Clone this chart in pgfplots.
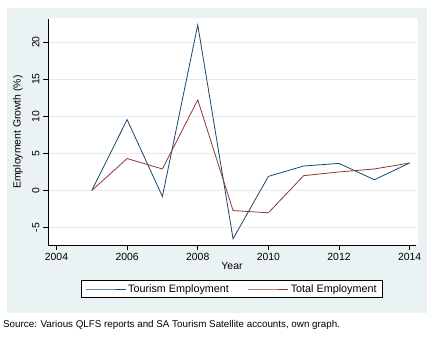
\documentclass[border=0pt]{standalone}
\usepackage{pgfplots}
\pgfplotsset{compat=1.18}
\usepackage{fontspec}
\setmainfont{Liberation Sans}
\definecolor{navyc}{HTML}{1A476F}
\definecolor{maroonc}{HTML}{90353B}
\definecolor{bgc}{HTML}{EAF2F3}
\definecolor{gridc}{HTML}{E4ECEE}
\begin{document}
\begin{tikzpicture}
\useasboundingbox (-48bp,-93bp) rectangle (388bp,245bp);
\fill[bgc] (-41bp,-68bp) rectangle (379bp,237bp);
\fill[white, rounded corners=2bp] (0bp,0bp) rectangle (370bp,227bp);
\begin{axis}[
  at={(0bp,0bp)}, anchor=south west,
  scale only axis, width=368bp, height=226bp,
  xmin=2003.76, xmax=2014.18, ymin=-7.34, ymax=23.1,
  axis x line*=bottom, axis y line*=left,
  axis line style={-, black, line width=0.6bp},
  xtick={2004,2006,...,2014}, ytick={-5,0,5,10,15,20},
  x tick label style={/pgf/number format/1000 sep={}},
  /pgf/number format/assume math mode=true,
  tick align=outside, major tick length=5bp,
  tick style={black, line width=0.6bp},
  ticklabel style={font=\fontsize{10.4bp}{12bp}\selectfont},
  yticklabel style={rotate=90, anchor=south},
  ymajorgrids, major grid style={color=gridc, line width=0.8bp},
  xlabel={Year}, ylabel={Employment Growth (\%)},
  label style={font=\fontsize{10.4bp}{12bp}\selectfont},
  xlabel style={at={(rel axis cs:0.5,0)}, anchor=center, yshift=-21bp},
  ylabel style={at={(axis description cs:-0.0815,0.5)}, anchor=center},
  legend columns=2,
  legend style={at={(0.5,-0.1947)}, anchor=center, draw=black, fill=white,
    font=\fontsize{10.8bp}{12bp}\selectfont, inner xsep=4bp, inner ysep=2bp,
    /tikz/every even column/.append style={column sep=17bp}},
  legend image code/.code={\draw[mark repeat=2,mark phase=2,#1] plot coordinates {(0bp,0bp) (20bp,0bp) (40bp,0bp)};},
]
\addplot[color=navyc, line width=0.8bp] coordinates {
(2005,0) (2006,9.55) (2007,-0.8) (2008,22.3) (2009,-6.5) (2010,1.9) (2011,3.3) (2012,3.65) (2013,1.45) (2014,3.7)};
\addlegendentry{Tourism Employment}
\addplot[color=maroonc, line width=0.8bp] coordinates {
(2005,0) (2006,4.3) (2007,2.9) (2008,12.2) (2009,-2.7) (2010,-3.0) (2011,2.0) (2012,2.5) (2013,2.9) (2014,3.7)};
\addlegendentry{Total Employment}
\end{axis}
\node[anchor=west, font=\fontsize{9.8bp}{12bp}\selectfont, inner sep=0pt] at (-45bp,-80bp) {Source: Various QLFS reports and SA Tourism Satellite accounts, own graph.};
\end{tikzpicture}
\end{document}
